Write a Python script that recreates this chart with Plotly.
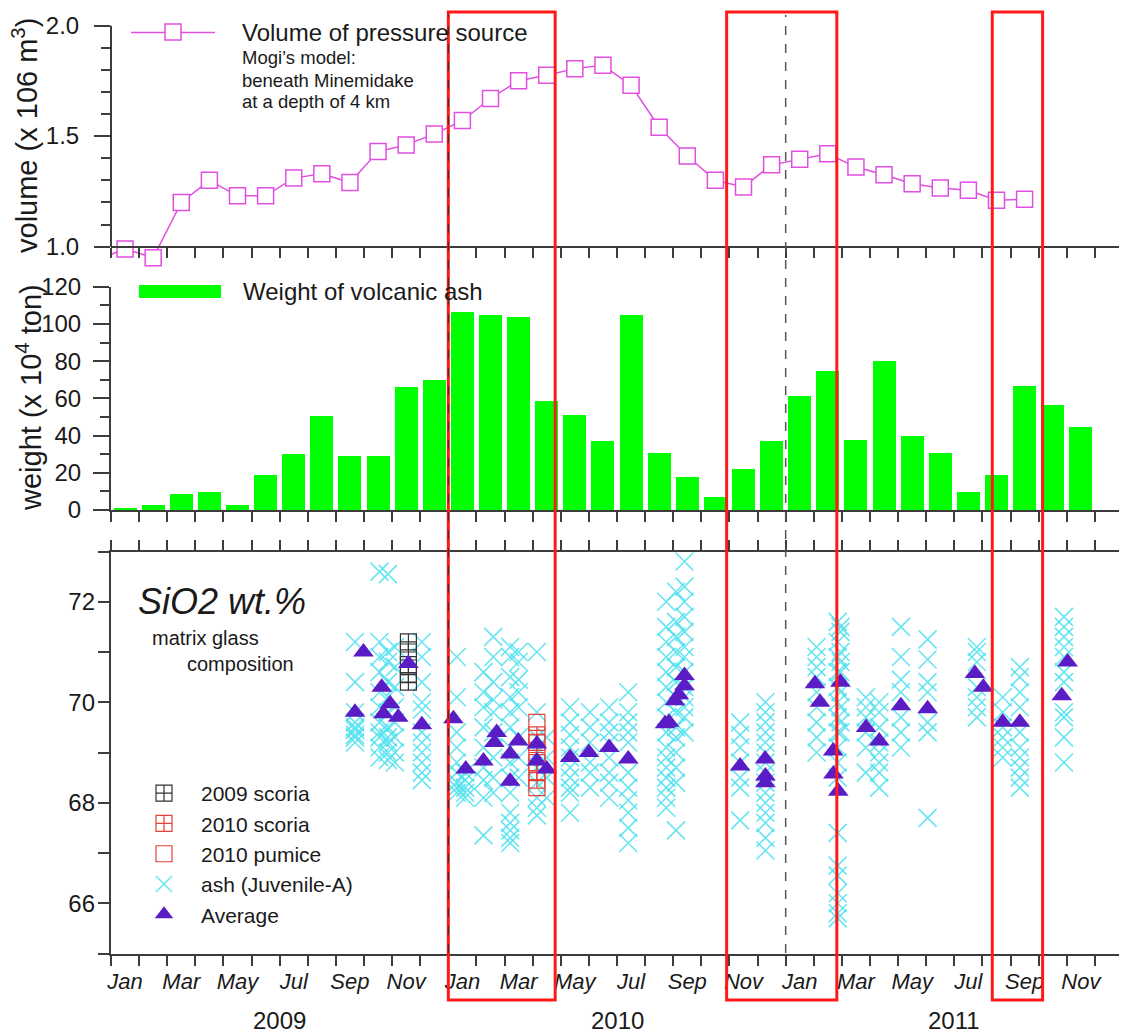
import plotly.graph_objects as go

# page pixel geometry (the page body adds an 8px margin around the figure)
OFF = 8
FW, FH = 1127 - OFF, 1035 - OFF
PLOT_L, PLOT_R = 111, 1123


def fx(p):
    return (p - PLOT_L) / (PLOT_R - PLOT_L)


def fy(p):
    return 1 - (p - OFF) / FH


FONT = "Liberation Sans, Arial, sans-serif"
AX = "#3c3c3c"
TXT = "#1a1a1a"
MAG = "#e04fe0"

# ---------------- data ----------------
month_ticks = list(range(37))
month_labels = ["Jan", "Mar", "May", "Jul", "Sep", "Nov"] * 3
month_label_pos = [m + 0.5 for m in range(0, 36, 2)]
year_labels = ["2009", "2010", "2011"]
year_pos = [6, 18, 30]
sio2_ticks = [65, 66, 67, 68, 69, 70, 71, 72, 73]
sio2_label_vals = [66, 68, 70, 72]
sio2_labels = ["66", "68", "70", "72"]

# volume of pressure source (x 10^6 m3), monthly from Dec 2008 (month -1)
volume_month = list(range(-1, 33))
volume = [0.94,
          0.99, 0.95, 1.20, 1.30, 1.23, 1.23, 1.31, 1.33, 1.29, 1.43, 1.46, 1.51,
          1.57, 1.67, 1.75, 1.775, 1.805, 1.82, 1.73, 1.54, 1.41, 1.30, 1.27, 1.37,
          1.395, 1.42, 1.36, 1.325, 1.285, 1.265, 1.255, 1.21, 1.215]

# weight of volcanic ash (x 10^4 ton), monthly from Jan 2009
ash_month = list(range(35))
ash_weight = [1, 3, 9, 10, 3, 19, 30, 50.5, 29, 29, 66, 70,
              106.5, 104.8, 104, 59, 51, 37, 105, 31, 18, 7, 22, 37,
              61.6, 75, 38, 80, 40, 31, 10, 19, 67, 56.5, 44.5]

# SiO2 of ash matrix glass: sampling time (months since Jan 2009) and analyses
glass_time = [8.68, 9.55, 9.85, 10.1, 11.06, 12.3, 12.6, 13.25, 13.6, 14.2, 14.5,
              15.15, 15.5, 16.33, 17.04, 17.72, 18.4, 19.75, 20.1, 20.4, 22.38,
              23.28, 25.1, 25.85, 25.95, 26.85, 27.33, 28.1, 29.05, 30.8, 31.72,
              32.33, 33.9]
glass_sio2 = [
    [71.2, 70.4, 69.8, 69.6, 69.5, 69.45, 69.35, 69.3, 69.2],
    [72.6, 71.2, 70.9, 70.6, 70.2, 69.9, 69.6, 69.4, 69.3, 69.1, 68.9],
    [72.55, 71.0, 70.8, 70.4, 70.1, 69.8, 69.5, 69.3, 69.2, 69.0, 68.85],
    [71.1, 70.7, 70.3, 69.9, 69.6, 69.3, 69.0, 68.8],
    [71.2, 70.9, 70.4, 70.0, 69.85, 69.4, 69.2, 69.0, 68.8, 68.6, 68.45],
    [70.9, 70.1, 69.4, 69.1, 68.8, 68.6, 68.4, 68.3, 68.2],
    [68.6, 68.45, 68.3, 68.2, 68.1],
    [70.6, 70.2, 69.9, 69.5, 69.1, 68.7, 68.45, 68.1, 67.35],
    [71.3, 70.9, 70.4, 70.05, 69.8, 69.4, 68.9, 68.5, 68.2],
    [71.1, 70.9, 70.5, 70.1, 69.8, 69.5, 69.1, 68.8, 68.5, 68.2, 67.8, 67.6, 67.45, 67.3, 67.2],
    [71.0, 70.8, 70.45, 70.2, 69.9, 69.3, 68.9, 68.5],
    [71.0, 69.8, 69.3, 69.0, 68.7, 68.4, 68.1, 67.9, 67.75],
    [69.3, 68.9, 68.5, 68.1],
    [69.9, 69.6, 69.35, 69.1, 68.9, 68.7, 68.5, 68.3, 68.2, 67.8],
    [69.8, 69.5, 69.2, 68.8, 68.6, 68.3],
    [69.9, 69.6, 69.4, 69.2, 68.9, 68.6, 68.4, 68.1],
    [70.2, 69.8, 69.6, 69.4, 69.2, 68.6, 68.3, 68.05, 67.8, 67.5, 67.2],
    [72.0, 71.5, 71.2, 70.9, 70.6, 70.3, 70.0, 69.7, 69.4, 69.1, 68.9, 68.7, 68.5, 68.3, 68.1, 67.9],
    [72.2, 71.6, 71.3, 71.0, 70.7, 70.4, 70.1, 69.8, 69.5, 69.3, 69.0, 68.7, 68.4, 67.45],
    [72.8, 72.3, 72.0, 71.7, 71.4, 71.1, 70.9, 70.6, 70.3, 70.1, 69.9, 69.7, 69.4],
    [69.6, 69.35, 69.1, 68.8, 68.5, 68.3, 67.65],
    [70.0, 69.8, 69.6, 69.4, 69.2, 69.0, 68.8, 68.6, 68.4, 68.2, 68.0, 67.8, 67.6, 67.3, 67.05],
    [71.1, 70.9, 70.7, 70.5, 70.2, 69.9, 69.6, 69.3, 69.0],
    [71.6, 71.2, 70.9, 70.6, 70.3, 70.0, 69.7, 69.4, 69.1, 68.8, 68.5, 67.4, 66.75, 66.55, 66.2, 66.0, 65.8, 65.7],
    [71.5, 71.4, 71.0, 70.8, 70.6, 70.2, 69.9, 69.6, 69.4],
    [70.1, 69.9, 69.7, 69.4, 69.1, 68.6],
    [70.0, 69.8, 69.5, 69.2, 69.0, 68.8, 68.6, 68.3],
    [71.5, 70.9, 70.45, 70.2, 69.7, 69.4, 69.1],
    [71.25, 70.85, 70.4, 70.2, 69.6, 69.4, 67.7],
    [71.1, 71.0, 70.8, 70.3, 70.1, 69.9, 69.7],
    [70.1, 69.8, 69.5, 69.3, 69.1, 68.9],
    [70.7, 70.5, 70.2, 69.9, 69.4, 69.1, 68.9, 68.7, 68.5, 68.3],
    [71.7, 71.5, 71.3, 71.1, 70.9, 70.6, 70.4, 69.8, 69.7, 69.3, 68.8],
]

avg_time = [8.68, 8.98, 9.63, 9.93, 9.69, 10.22, 10.58, 11.06, 12.18, 12.62, 13.25,
            13.72, 13.64, 14.2, 14.2, 14.49, 15.15, 15.15, 15.5, 16.33, 17.0, 17.72,
            18.4, 19.71, 19.85, 20.06, 20.2, 20.4, 20.4, 22.38, 23.27, 23.28, 23.28,
            25.04, 25.22, 25.69, 25.7, 25.87, 25.95, 26.86, 27.33, 28.1, 29.05,
            30.73, 31.03, 31.72, 32.33, 33.82, 34.03]
avg_sio2 = [69.8, 71.0, 70.3, 69.97, 69.77, 69.7, 70.77, 69.55, 69.67, 68.67, 68.83,
            69.4, 69.2, 68.97, 68.43, 69.23, 69.17, 68.83, 68.67, 68.9, 69.0, 69.1,
            68.87, 69.57, 69.6, 70.03, 70.15, 70.33, 70.53, 68.73, 68.87, 68.53, 68.4,
            70.37, 70.0, 69.03, 68.57, 68.23, 70.4, 69.5, 69.23, 69.93, 69.87,
            70.57, 70.3, 69.6, 69.6, 70.13, 70.8]

scoria09_time = 10.58
scoria09_sio2 = [71.2, 71.0, 70.75, 70.55, 70.4]
scoria10_time = 15.15
scoria10_sio2 = [69.35, 69.2, 69.0, 68.8, 68.6, 68.45]
pumice10_time = 15.15
pumice10_sio2 = [69.6, 68.3]

# highlighted periods (months since Jan 2009)
red_periods = [(12.0, 15.8), (21.9, 25.82), (31.35, 33.14)]

mogi_lines = ["Mogi’s model:", "beneath Minemidake", "at a depth of 4 km"]

# ---------------- figure ----------------
fig = go.Figure()

vol_marker = dict(symbol="square", size=16, color="white", line=dict(width=1.5, color=MAG))
fig.add_trace(go.Scatter(
    x=[m + 0.5 for m in volume_month], y=volume, mode="lines+markers",
    showlegend=False, line=dict(color=MAG, width=1.5), marker=vol_marker,
    xaxis="x", yaxis="y"))
# legend entry for the volume series (marker part; the long line is drawn as a shape)
fig.add_trace(go.Scatter(
    x=[None], y=[None], mode="markers", name="Volume of pressure source",
    legend="legend", showlegend=True, marker=vol_marker, xaxis="x", yaxis="y"))

fig.add_trace(go.Bar(
    x=[m + 0.5 for m in ash_month], y=ash_weight, width=0.82,
    name="Weight of volcanic ash", legend="legend2", showlegend=True,
    marker=dict(color="#00ff00", line=dict(width=0)),
    xaxis="x2", yaxis="y2"))

gx, gy = [], []
for t, vals in zip(glass_time, glass_sio2):
    gx += [t] * len(vals)
    gy += vals
fig.add_trace(go.Scatter(
    x=gx, y=gy, mode="markers", name="ash (Juvenile-A)", legend="legend3", legendrank=4,
    marker=dict(symbol="x-thin-open", size=18, color="#4fe0ee",
                line=dict(width=1.6, color="#4fe0ee"), opacity=0.85),
    xaxis="x3", yaxis="y3"))
fig.add_trace(go.Scatter(
    x=[scoria09_time] * len(scoria09_sio2), y=scoria09_sio2, mode="markers",
    name="2009 scoria", legend="legend3", legendrank=1,
    marker=dict(symbol="square-cross-open", size=16, color="#333333", line=dict(width=1.2)),
    xaxis="x3", yaxis="y3"))
fig.add_trace(go.Scatter(
    x=[scoria10_time] * len(scoria10_sio2), y=scoria10_sio2, mode="markers",
    name="2010 scoria", legend="legend3", legendrank=2,
    marker=dict(symbol="square-cross-open", size=16, color="#e8403a", line=dict(width=1.2)),
    xaxis="x3", yaxis="y3"))
fig.add_trace(go.Scatter(
    x=[pumice10_time] * len(pumice10_sio2), y=pumice10_sio2, mode="markers",
    name="2010 pumice", legend="legend3", legendrank=3,
    marker=dict(symbol="square-open", size=16, color="#e8403a", line=dict(width=1.2)),
    xaxis="x3", yaxis="y3"))
fig.add_trace(go.Scatter(
    x=avg_time, y=avg_sio2, mode="markers", name="Average", legend="legend3", legendrank=5,
    marker=dict(symbol="triangle-up", size=18, color="#5a1cc4", line=dict(width=0)),
    xaxis="x3", yaxis="y3"))
# carriers for the label-only axes
fig.add_trace(go.Scatter(
    x=month_label_pos, y=[None] * len(month_label_pos), mode="markers",
    showlegend=False, hoverinfo="skip", xaxis="x4", yaxis="y3"))
fig.add_trace(go.Scatter(
    x=[None] * len(sio2_label_vals), y=sio2_label_vals, mode="markers",
    showlegend=False, hoverinfo="skip", xaxis="x3", yaxis="y4"))

tickfont = dict(family=FONT, size=24, color=TXT)
common_x = dict(range=[0, 36], showgrid=False, zeroline=False, tickmode="array",
                tickvals=month_ticks, ticks="outside", ticklen=10, tickwidth=1.5,
                tickcolor=AX, showticklabels=False, showline=True, linecolor=AX,
                linewidth=2)

shapes = []
for x0, x1 in red_periods:
    shapes.append(dict(type="rect", xref="x", yref="paper", x0=x0, x1=x1,
                       y0=fy(1000), y1=fy(12), line=dict(color="#ff1a1a", width=3),
                       layer="above"))
shapes.append(dict(type="line", xref="x", yref="paper", x0=24, x1=24, y0=fy(953), y1=fy(15),
                   line=dict(color="#555555", width=1.5, dash="dash"), layer="above"))
shapes.append(dict(type="line", xref="x", yref="paper", x0=12, x1=12, y0=fy(953), y1=fy(15),
                   line=dict(color="#333333", width=1.2, dash="dash"), layer="above"))
shapes.append(dict(type="line", xref="paper", yref="y", x0=0, x1=0, y0=1.0, y1=2.0,
                   line=dict(color=AX, width=2)))
# legend keys: long line for the volume series, wide swatch for the ash weight
shapes.append(dict(type="line", xref="paper", yref="paper", x0=fx(131), x1=fx(215),
                   y0=fy(32.5), y1=fy(32.5), line=dict(color=MAG, width=1.5), layer="above"))
shapes.append(dict(type="rect", xref="paper", yref="paper", x0=fx(139), x1=fx(221),
                   y0=fy(298), y1=fy(285), fillcolor="#00ff00", line=dict(width=0)))

annotations = []
for lab, yp in zip(year_labels, year_pos):
    annotations.append(dict(text=lab, x=yp, xref="x", y=fy(1020), yref="paper",
                            xanchor="center", yanchor="middle", showarrow=False,
                            font=dict(family=FONT, size=24, color=TXT)))
for i, line in enumerate(mogi_lines):
    annotations.append(dict(text=line, x=fx(240), y=fy(58 + 22 * i), xref="paper",
                            yref="paper", xanchor="left", yanchor="middle", showarrow=False,
                            font=dict(family=FONT, size=18.5, color=TXT)))
annotations += [
    dict(text="SiO2 wt.%", x=fx(136), y=fy(601), xref="paper", yref="paper", xanchor="left",
         yanchor="middle", showarrow=False,
         font=dict(family=FONT, size=36, color=TXT, style="italic")),
    dict(text="matrix glass", x=fx(150), y=fy(638), xref="paper", yref="paper", xanchor="left",
         yanchor="middle", showarrow=False, font=dict(family=FONT, size=20, color=TXT)),
    dict(text="composition", x=fx(185), y=fy(664), xref="paper", yref="paper", xanchor="left",
         yanchor="middle", showarrow=False, font=dict(family=FONT, size=20, color=TXT)),
    dict(text="volume (x 106 m<sup>3</sup>)", x=fx(25), y=fy(136), xref="paper",
         yref="paper", xanchor="center", yanchor="middle", textangle=-90, showarrow=False,
         font=dict(family=FONT, size=29, color=TXT)),
    dict(text="weight (x 10<sup>4</sup> ton)", x=fx(29), y=fy(398), xref="paper",
         yref="paper", xanchor="center", yanchor="middle", textangle=-90, showarrow=False,
         font=dict(family=FONT, size=29, color=TXT)),
]

fig.update_layout(
    width=FW, height=FH,
    margin=dict(l=PLOT_L - OFF, r=FW - (PLOT_R - OFF), t=0, b=0, autoexpand=False),
    paper_bgcolor="white", plot_bgcolor="rgba(0,0,0,0)", template="none",
    font=dict(family=FONT, color=TXT), showlegend=True,
    bargap=0,
    xaxis=dict(**common_x, anchor="free", position=fy(246.7)),
    xaxis2=dict(**common_x, anchor="y2"),
    xaxis3=dict(**common_x, anchor="y3", mirror="ticks"),
    xaxis4=dict(range=[0, 36], overlaying="x3", anchor="y3", side="bottom",
                tickmode="array", tickvals=month_label_pos, ticktext=month_labels,
                ticks="", showline=False, showgrid=False, zeroline=False,
                ticklabelstandoff=12,
                tickfont=dict(family=FONT, size=22, color=TXT, style="italic")),
    yaxis=dict(domain=[fy(268.8), fy(25.5)], range=[0.9, 2.0], anchor="x",
               showline=False, showgrid=False, zeroline=False,
               tickmode="array", tickvals=[1.0, 1.5, 2.0], ticktext=["1.0", "1.5", "2.0"],
               ticks="outside", ticklen=16, tickwidth=1.5, tickcolor=AX,
               minor=dict(tickvals=[1.1, 1.2, 1.3, 1.4, 1.6, 1.7, 1.8, 1.9],
                          ticks="outside", ticklen=9, tickwidth=1.5, tickcolor=AX),
               ticklabelstandoff=10, tickfont=tickfont),
    yaxis2=dict(domain=[fy(510), fy(286.7)], range=[0, 120], anchor="x2",
                showline=True, linecolor=AX, linewidth=2, showgrid=False, zeroline=False,
                tickmode="array", tickvals=[0, 20, 40, 60, 80, 100, 120],
                ticks="outside", ticklen=16, tickwidth=1.5, tickcolor=AX,
                minor=dict(tickvals=[10, 30, 50, 70, 90, 110], ticks="outside",
                           ticklen=9, tickwidth=1.5, tickcolor=AX),
                ticklabelstandoff=7, tickfont=tickfont),
    yaxis3=dict(domain=[fy(953.5), fy(551.5)], range=[65, 73], anchor="x3",
                showline=True, linecolor=AX, linewidth=2, mirror="ticks",
                showgrid=False, zeroline=False, tickmode="array", tickvals=sio2_ticks,
                ticks="outside", ticklen=11, tickwidth=1.5, tickcolor=AX,
                showticklabels=False),
    yaxis4=dict(range=[65, 73], overlaying="y3", anchor="x3", side="left",
                showline=False, showgrid=False, zeroline=False, tickmode="array",
                tickvals=sio2_label_vals, ticktext=sio2_labels, ticks="",
                ticklabelstandoff=15, tickfont=tickfont),
    legend=dict(x=fx(104), y=fy(10), xanchor="left", yanchor="top", itemwidth=128,
                bgcolor="rgba(0,0,0,0)", font=dict(family=FONT, size=24, color=TXT)),
    legend2=dict(x=fx(169), y=fy(269), xanchor="left", yanchor="top", itemwidth=64,
                 bgcolor="rgba(0,0,0,0)", font=dict(family=FONT, size=24, color=TXT)),
    legend3=dict(x=fx(127), y=fy(773), xanchor="left", yanchor="top", itemwidth=64,
                 bgcolor="rgba(0,0,0,0)", traceorder="normal",
                 font=dict(family=FONT, size=21, color=TXT)),
    shapes=shapes,
    annotations=annotations,
)

fig.write_html("out.html")
